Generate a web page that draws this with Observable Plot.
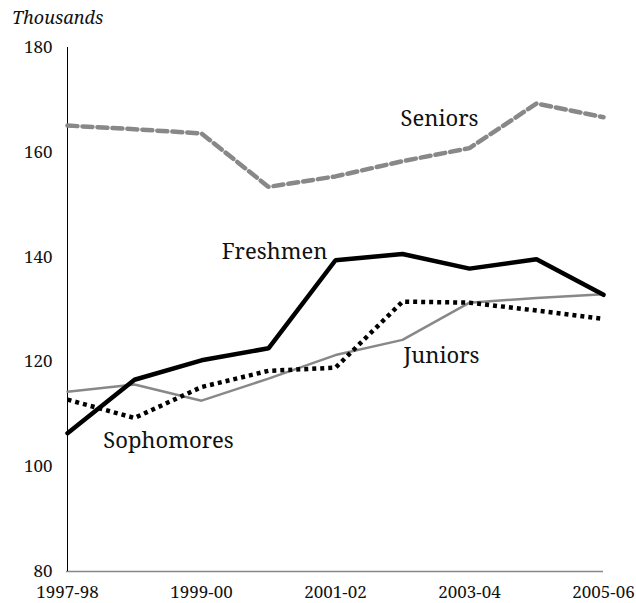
<!DOCTYPE html>
<html>
<head>
<meta charset="utf-8">
<script src="https://cdn.jsdelivr.net/npm/d3@7"></script>
<script src="https://cdn.jsdelivr.net/npm/@observablehq/plot@0.6"></script>
</head>
<body style="margin:0;padding:0;background:#fff">
<div id="title">Thousands</div>
<div id="chart"></div>
<script>
const years = ["1997-98","1998-99","1999-00","2000-01","2001-02","2002-03","2003-04","2004-05","2005-06"];
const tickYears = ["1997-98","1999-00","2001-02","2003-04","2005-06"];
const yTicks = [80, 100, 120, 140, 160, 180];

const freshmen   = [106.4, 116.6, 120.3, 122.6, 139.4, 140.6, 137.8, 139.6, 132.8];
const sophomores = [112.8, 109.3, 115.2, 118.3, 118.9, 131.5, 131.3, 129.8, 128.2];
const juniors    = [114.3, 115.7, 112.6, 116.8, 121.3, 124.2, 131.3, 132.2, 132.9];
const seniors    = [165.1, 164.4, 163.6, 153.4, 155.4, 158.3, 160.8, 169.3, 166.7];

const seriesNames = ["Freshmen", "Sophomores", "Juniors", "Seniors"];
const labelYear  = ["2000-01", "1999-00", "2003-04", "2003-04"];
const labelValue = [140.9, 105.0, 121.2, 166.3];
const labelDx    = [6, -33, -28, -30];

const toRows = vals => years.map((y, i) => ({year: y, value: vals[i]}));
const labels = seriesNames.map((n, i) => ({name: n, year: labelYear[i], value: labelValue[i], dx: labelDx[i]}));

const gray = "#888888";
const FONT = '"Noto Serif", "Liberation Serif", serif';

const title = document.getElementById("title");
title.style.fontFamily = FONT;
title.style.fontStyle = "italic";
title.style.fontSize = "18px";
title.style.height = "30px";
title.style.lineHeight = "34px";
title.style.paddingLeft = "12px";
title.style.boxSizing = "border-box";
title.style.color = "#111";

const chart = Plot.plot({
  width: 636,
  height: 573,
  marginLeft: 66,
  marginRight: 33,
  marginTop: 17,
  marginBottom: 32,
  style: {fontSize: "17px", color: "#111", background: "#fff", fontFamily: FONT},
  x: {type: "point", domain: years, padding: 0, label: null},
  y: {domain: [80, 180], label: null},
  marks: [
    Plot.axisY({ticks: yTicks, tickSize: 0, tickPadding: 14, label: null, fontSize: 17}),
    Plot.axisX({ticks: tickYears, tickSize: 0, tickPadding: 14, label: null, fontSize: 17}),
    Plot.ruleY([80], {stroke: gray, strokeWidth: 1.5}),
    Plot.ruleX([years[0]], {y1: 80, y2: 180, stroke: "#000", strokeWidth: 1}),
    Plot.line(toRows(juniors), {x: "year", y: "value", stroke: gray, strokeWidth: 2.5, strokeLinejoin: "miter"}),
    Plot.line(toRows(seniors), {x: "year", y: "value", stroke: gray, strokeWidth: 4.5, strokeDasharray: "10,5", strokeLinejoin: "miter"}),
    Plot.line(toRows(sophomores), {x: "year", y: "value", stroke: "#000", strokeWidth: 4.5, strokeDasharray: "4,4", strokeLinecap: "butt", strokeLinejoin: "miter"}),
    Plot.line(toRows(freshmen), {x: "year", y: "value", stroke: "#000", strokeWidth: 4.5, strokeLinejoin: "miter"}),
    ...labels.map(l => Plot.text([l], {x: "year", y: "value", text: "name", dx: l.dx, fontSize: 22, textAnchor: "middle", lineAnchor: "middle", fill: "#111"}))
  ]
});
chart.style.display = "block";
chart.style.fontFamily = FONT;
d3.select(chart).selectAll("text, g").style("font-family", FONT);
document.getElementById("chart").appendChild(chart);
</script>
</body>
</html>
